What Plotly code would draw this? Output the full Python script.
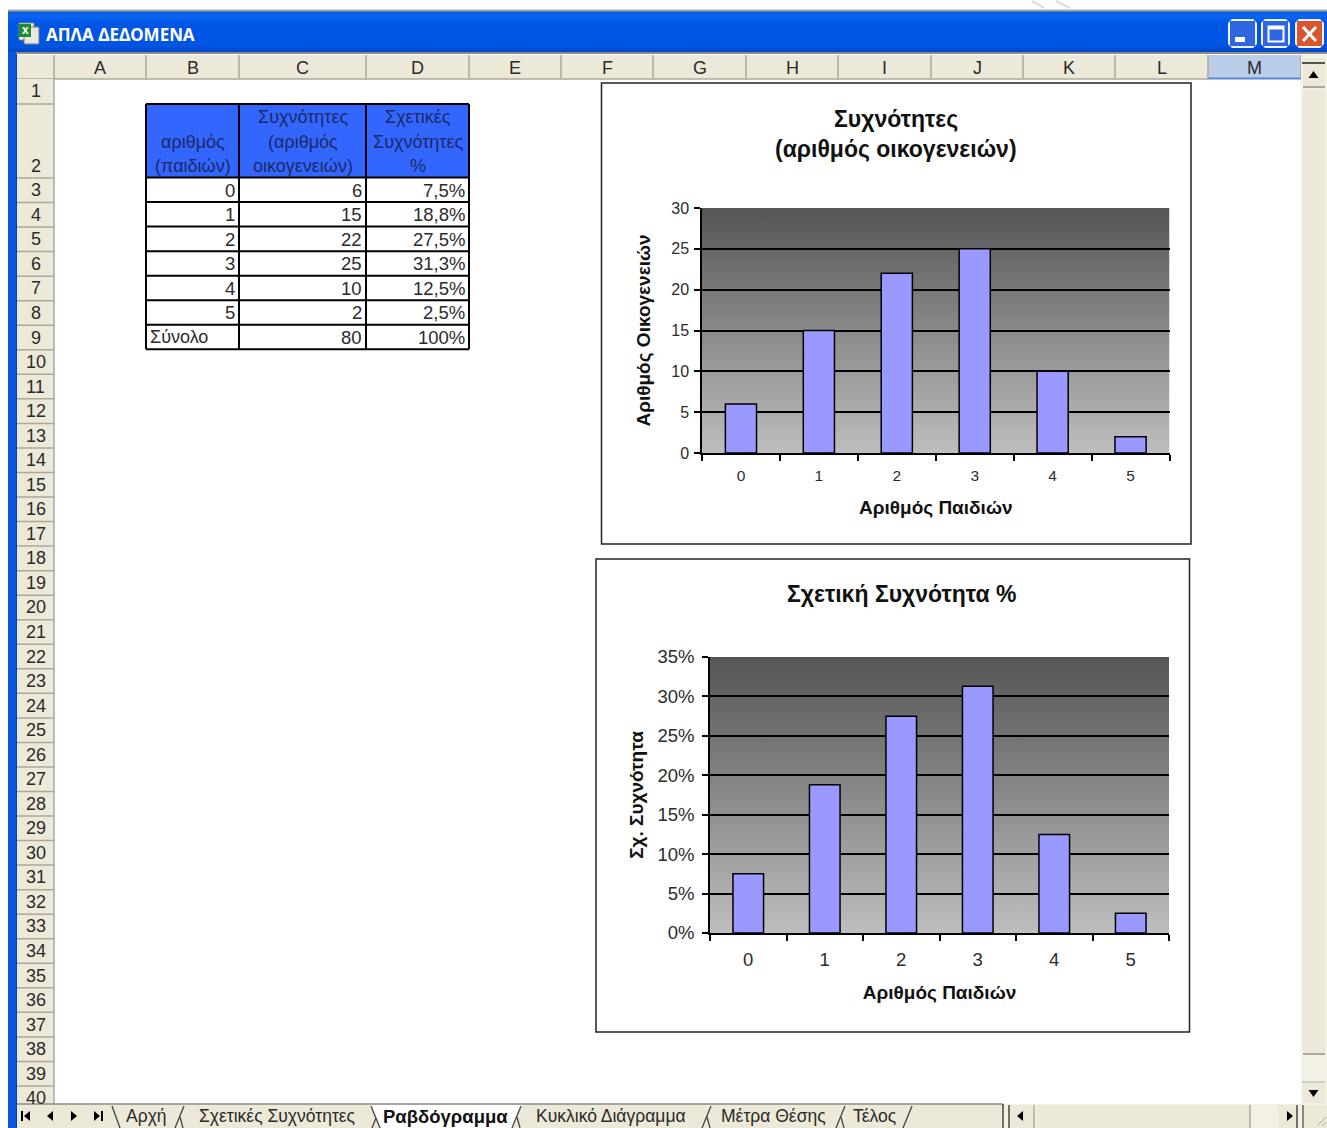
import base64
import plotly.graph_objects as go

W, H = 1327, 1128

# Worksheet contents
children = ["0", "1", "2", "3", "4", "5"]
families = [6, 15, 22, 25, 10, 2]
relative_pct = [7.5, 18.8, 27.5, 31.3, 12.5, 2.5]
relative_labels = ["7,5%", "18,8%", "27,5%", "31,3%", "12,5%", "2,5%"]
total_label = "Σύνολο"
total_families = "80"
total_pct = "100%"

column_letters = list("ABCDEFGHIJKLM")
column_edges = [54, 146, 239, 366, 469, 561, 653, 746, 838, 931, 1023, 1115, 1208, 1301]
row_count = 40

header_lines = [
    (192.5, 142, "αριθμός"), (192.5, 166, "(παιδιών)"),
    (302.5, 117, "Συχνότητες"), (302.5, 142, "(αριθμός"), (302.5, 166, "οικογενειών)"),
    (417.5, 117, "Σχετικές"), (417.5, 142, "Συχνότητες"), (417.5, 166, "%"),
]

sheet_tabs = [
    ("Αρχή", 146.5, False), ("Σχετικές Συχνότητες", 277, False), ("Ραβδόγραμμα", 445.5, True),
    ("Κυκλικό Διάγραμμα", 610.5, False), ("Μέτρα Θέσης", 773.5, False), ("Τέλος", 874, False),
]
tab_separators = [175, 512, 702, 836]

SHEET_FONT = "Liberation Sans"
CHROME = "#ECE9D8"
CHROME_LINE = "#ACA899"
TEXT = "#2b2b2b"


def fx(x):
    return x / W


def fy(y):
    return 1 - y / H


shapes, annotations, images = [], [], []


def rect(x0, y0, x1, y1, fill=None, line=None, width=1):
    shapes.append(dict(
        type="rect", xref="paper", yref="paper", layer="below",
        x0=fx(x0), x1=fx(x1), y0=fy(y0), y1=fy(y1),
        fillcolor=fill or "rgba(0,0,0,0)",
        line=dict(color=line or "rgba(0,0,0,0)", width=width if line else 0),
    ))


def seg(x0, y0, x1, y1, color="#000000", width=1):
    shapes.append(dict(
        type="line", xref="paper", yref="paper", layer="below",
        x0=fx(x0), x1=fx(x1), y0=fy(y0), y1=fy(y1),
        line=dict(color=color, width=width),
    ))


def poly(points, fill):
    path = "M " + " L ".join(f"{fx(x):.5f} {fy(y):.5f}" for x, y in points) + " Z"
    shapes.append(dict(
        type="path", xref="paper", yref="paper", layer="below", path=path,
        fillcolor=fill, line=dict(width=0),
    ))


def label(x, y, text, size=18, color=TEXT, anchor="center", bold=False, family=SHEET_FONT):
    annotations.append(dict(
        xref="paper", yref="paper", x=fx(x), y=fy(y), text=f"<b>{text}</b>" if bold else text,
        showarrow=False, xanchor=anchor, yanchor="middle",
        font=dict(family=family, size=size, color=color), borderpad=0, borderwidth=0,
    ))


def gradient_uri(stops):
    stop_tags = "".join(f'<stop offset="{o}" stop-color="{c}"/>' for o, c in stops)
    svg = ('<svg xmlns="http://www.w3.org/2000/svg" width="10" height="100" viewBox="0 0 10 100" '
           'preserveAspectRatio="none"><defs><linearGradient id="g" x1="0" y1="0" x2="0" y2="1">'
           f'{stop_tags}</linearGradient></defs><rect width="10" height="100" fill="url(#g)"/></svg>')
    return "data:image/svg+xml;base64," + base64.b64encode(svg.encode()).decode()


# Window frame and caption bar
images.append(dict(
    source=gradient_uri([(0, "#0A5BE0"), (0.12, "#0A66F0"), (0.3, "#0055E5"), (0.85, "#0055E3"), (1, "#0247C4")]),
    xref="paper", yref="paper", x=fx(8), y=fy(11), sizex=fx(W - 8), sizey=41 / H,
    xanchor="left", yanchor="top", sizing="stretch", layer="below",
))
seg(8, 10.5, W, 10.5, "#A8A89E", 2)
seg(1032, 1, 1044, 8, "#D8D8D8", 2)
seg(1056, 1, 1070, 8, "#DDDDDD", 2)
rect(8, 52, 16, H, fill="#0A55E0")
seg(16.5, 52, 16.5, H, "#0B3FB0", 1)
seg(16, 53, W, 53, "#8E8E88", 2)

# Application icon in the caption bar
rect(19, 23, 34, 40, fill="#F4F4EC", line="#6E8F6E")
rect(24, 27, 39, 44, fill="#E8E8E0", line="#7A7A7A")
rect(19, 24, 31, 37, fill="#1F8A3A")
label(25, 30.5, "x", size=12, color="#FFFFFF", bold=True)

label(46, 34, "ΑΠΛΑ ΔΕΔΟΜΕΝΑ", size=17, color="#FFFFFF", anchor="left", bold=True, family="Noto Sans")

# Caption buttons
for x0, fill in [(1228, "#2D66E0"), (1261, "#2D66E0"), (1295, "#D9552E")]:
    r = 4
    x1 = x0 + 29
    y0, y1 = 19, 48
    poly([(x0 + r, y0), (x1 - r, y0), (x1, y0 + r), (x1, y1 - r), (x1 - r, y1), (x0 + r, y1),
          (x0, y1 - r), (x0, y0 + r)], "#EDF2FB")
    rect(x0 + 2, y0 + 2, x1 - 2, y1 - 2, fill=fill)
rect(1235, 37, 1245, 42, fill="#FFFFFF")
rect(1268.5, 26.5, 1283.5, 41.5, line="#FFFFFF", width=2)
seg(1268, 28, 1284, 28, "#FFFFFF", 3)
seg(1303, 27, 1316, 41, "#FFFFFF", 3)
seg(1316, 27, 1303, 41, "#FFFFFF", 3)

# Column headings
rect(17, 55, 1301, 79, fill=CHROME)
rect(column_edges[-2], 55, column_edges[-1], 79, fill="#BBCDE9")
seg(column_edges[-2], 78.5, column_edges[-1], 78.5, "#5A8AD8", 2)
seg(54, 55, 54, 79, CHROME_LINE, 1.5)
for i, letter in enumerate(column_letters):
    left, right = column_edges[i], column_edges[i + 1]
    seg(right, 55, right, 79, CHROME_LINE, 1.5)
    label((left + right) / 2, 67.5, letter, size=18)
seg(17, 79, 1208, 79, CHROME_LINE, 1.5)

# Row headings
rect(17, 79, 54, 1104, fill=CHROME)
seg(54, 79, 54, 1104, CHROME_LINE, 1.5)
row_tops = [79, 104]
row_tops += [178 + 24.54 * i for i in range(row_count - 1)]
for n in range(1, row_count + 1):
    top = row_tops[n - 1]
    bottom = row_tops[n]
    if n < row_count:
        seg(17, bottom, 54, bottom, CHROME_LINE, 1.5)
    y = 166 if n == 2 else (top + bottom) / 2
    if n == row_count:
        y = 1098
    label(35.5, y, str(n), size=18)

# Frequency table on the sheet
table_x = [146, 239, 366, 469]
table_rows = [177.5 + 24.55 * i for i in range(8)]
rect(table_x[0], 104, table_x[-1], table_rows[0], fill="#3366FF")
for x in table_x:
    seg(x, 104, x, table_rows[-1], "#000000", 2)
seg(table_x[0], 104, table_x[-1], 104, "#000000", 2)
for y in table_rows:
    seg(table_x[0], y, table_x[-1], y, "#000000", 2)
for x, y, text in header_lines:
    label(x, y, text, size=18, color="#1A2A66")
for i, (c, f, r) in enumerate(zip(children, families, relative_labels)):
    y = table_rows[i] + 12.5
    label(235, y, c, anchor="right", size=18.5)
    label(362, y, str(f), anchor="right", size=18.5)
    label(465, y, r, anchor="right", size=18.5)
y_total = table_rows[6] + 12.5
label(150, y_total, total_label, anchor="left")
label(362, y_total, total_families, anchor="right", size=18.5)
label(465, y_total, total_pct, anchor="right", size=18.5)

# Chart frames
rect(601.5, 83, 1191, 544, fill="#FFFFFF", line="#222222", width=1.5)
rect(596, 559, 1189.5, 1032, fill="#FFFFFF", line="#222222", width=1.5)

# Vertical scrollbar
rect(1301, 55, W, 1104, fill="#F3F1E6")
rect(1303, 58, 1325, 87, fill=CHROME)
seg(1302, 63, 1325, 63, "#222222", 1.5)
poly([(1313.5, 71), (1308.5, 78), (1318.5, 78)], "#000000")
seg(1303, 87, 1325, 87, CHROME_LINE, 2)
rect(1303, 90, 1325, 1054, fill=CHROME)
seg(1303, 1054, 1325, 1054, CHROME_LINE, 2)
rect(1303, 1082, 1325, 1103, fill=CHROME)
poly([(1308.5, 1090), (1318.5, 1090), (1313.5, 1097)], "#000000")
seg(1302, 1082, 1325, 1082, "#C4C1B0", 1.5)

# Sheet tab strip and horizontal scrollbar
rect(17, 1104, W, H, fill=CHROME)
seg(17, 1104, 1003, 1104, "#8F8D80", 1.5)
rect(1003, 1104, W, H, fill="#F3F1E6")
seg(1003, 1104, 1003, H, "#444444", 1.5)
rect(1010, 1105, 1033, H, fill=CHROME)
seg(1009, 1105, 1009, H, "#444444", 1.5)
poly([(1017, 1116), (1023, 1111), (1023, 1121)], "#000000")
seg(1034, 1105, 1034, H, CHROME_LINE, 1.5)
rect(1036, 1105, 1250, H, fill=CHROME)
seg(1250, 1105, 1250, H, CHROME_LINE, 1.5)
rect(1278, 1105, 1296, H, fill=CHROME)
poly([(1287, 1111), (1293, 1116), (1287, 1121)], "#000000")
seg(1297, 1105, 1297, H, "#444444", 1.5)
rect(1303, 1105, W, H, fill=CHROME)
seg(1303, 1105, 1303, H, "#666666", 1.5)
seg(1317, 1126, 1326, 1117, "#B0AD9C", 1)
seg(1322, 1126, 1326, 1122, "#B0AD9C", 1)

# First, previous, next and last sheet buttons
seg(22, 1111, 22, 1121, "#000000", 2)
poly([(30, 1111), (24, 1116), (30, 1121)], "#000000")
poly([(53, 1111), (47, 1116), (53, 1121)], "#000000")
poly([(71, 1111), (77, 1116), (71, 1121)], "#000000")
poly([(94, 1111), (100, 1116), (94, 1121)], "#000000")
seg(102, 1111, 102, 1121, "#000000", 2)

# Tab outlines: the active tab is white, the others overlap with slanted edges
poly([(371, 1105), (522, 1105), (512, H), (380, H)], "#FFFFFF")
seg(112, 1106, 120, H, "#444444", 1.3)
seg(371, 1106, 380, H, "#444444", 1.3)
seg(376, 1118, 372, H, "#444444", 1.3)
for x in tab_separators:
    seg(x + 9, 1106, x, H, "#444444", 1.3)
    seg(x + 5, 1117, x + 8, H, "#444444", 1.3)
seg(912, 1106, 903, H, "#444444", 1.3)
for text, x, active in sheet_tabs:
    label(x, 1116, text, size=18.5 if active else 17.5, color="#111111" if active else TEXT, bold=active)

# Chart titles
label(896, 119, "Συχνότητες", size=23, color="#111111", bold=True)
label(896, 149, "(αριθμός οικογενειών)", size=23, color="#111111", bold=True)
label(901, 594, "Σχετική Συχνότητα %", size=23, color="#111111", bold=True)

# Shaded plot backgrounds, sitting under the gridlines
plot_shade = gradient_uri([(0, "#555555"), (1, "#BEBEBE")])
for xa, ya in [("x", "y"), ("x2", "y2")]:
    images.append(dict(
        source=plot_shade, xref=f"{xa} domain", yref=f"{ya} domain", x=0, y=1, sizex=1, sizey=1,
        xanchor="left", yanchor="top", sizing="stretch", layer="below",
    ))

fig = go.Figure()
bar_style = dict(marker=dict(color="#9999FF", line=dict(color="#000000", width=1.5)), width=0.4, showlegend=False)
fig.add_trace(go.Bar(x=children, y=families, xaxis="x", yaxis="y", **bar_style))
fig.add_trace(go.Bar(x=children, y=relative_pct, xaxis="x2", yaxis="y2", **bar_style))


def x_axis(domain, anchor, size, standoff, title_standoff):
    return dict(
        domain=domain, anchor=anchor, type="category", tickson="boundaries", ticks="outside", ticklen=6,
        tickwidth=1.5, tickcolor="#000000", showline=True, linecolor="#000000", linewidth=1.5, showgrid=False,
        tickfont=dict(family=SHEET_FONT, size=size, color=TEXT), ticklabelstandoff=standoff, automargin=False,
        title=dict(text="<b>Αριθμός Παιδιών</b>", standoff=title_standoff,
                   font=dict(family=SHEET_FONT, size=19, color="#111111")),
    )


def y_axis(domain, anchor, top, step, size, suffix, title, standoff, title_standoff):
    return dict(
        domain=domain, anchor=anchor, range=[0, top], tickmode="linear", tick0=0, dtick=step,
        ticksuffix=suffix, ticks="outside", ticklen=6, tickwidth=1.5,
        tickcolor="#000000", showline=True, linecolor="#000000", linewidth=1.5, showgrid=False, zeroline=False,
        minor=dict(tickmode="array", tickvals=list(range(step, top, step)), showgrid=True, gridcolor="#000000",
                   gridwidth=1.5, ticks=""),
        tickfont=dict(family=SHEET_FONT, size=size, color=TEXT), ticklabelstandoff=standoff, automargin=False,
        title=dict(text=f"<b>{title}</b>", standoff=title_standoff,
                   font=dict(family=SHEET_FONT, size=19, color="#111111")),
    )


fig.update_layout(
    width=W, height=H, autosize=False, margin=dict(l=0, r=0, t=0, b=0, pad=0, autoexpand=False),
    paper_bgcolor="#FFFFFF", plot_bgcolor="rgba(0,0,0,0)", showlegend=False,
    xaxis=x_axis([fx(702), fx(1169.5)], "y", 15.5, 8, 17),
    yaxis=y_axis([fy(453), fy(208)], "x", 30, 5, 16, "", "Αριθμός Οικογενειών", 2, 16),
    xaxis2=x_axis([fx(710), fx(1169)], "y2", 18.5, 9, 17),
    yaxis2=y_axis([fy(933), fy(657)], "x2", 35, 5, 18.5, "%", "Σχ. Συχνότητα", 4, 9),
    shapes=shapes, annotations=annotations, images=images,
)

fig.write_html("out.html", config=dict(displayModeBar=False))
